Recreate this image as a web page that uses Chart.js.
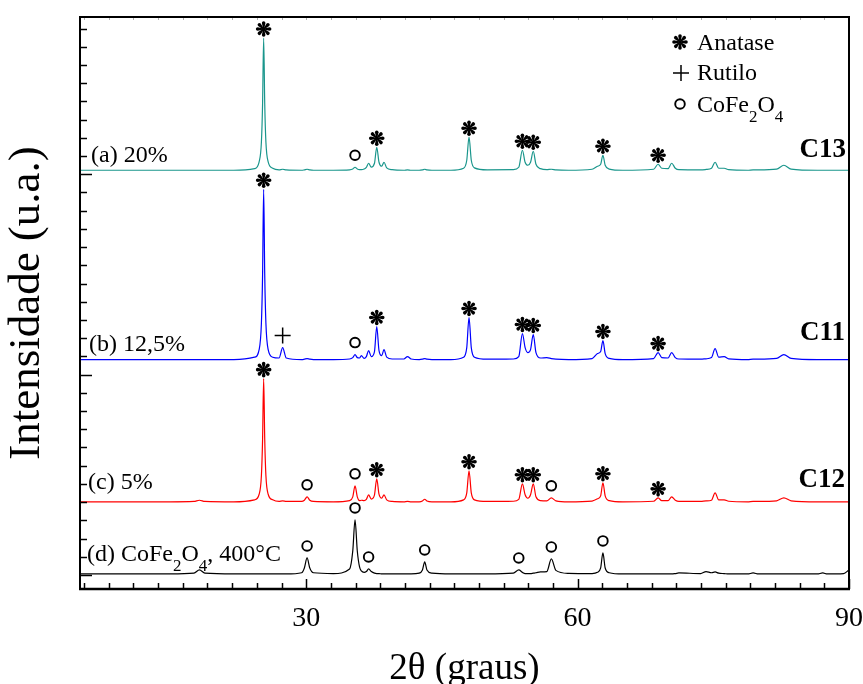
<!DOCTYPE html>
<html>
<head>
<meta charset="utf-8">
<title>DRX - CoFe2O4/TiO2</title>
<script src="https://cdn.jsdelivr.net/npm/chart.js@4.4.1/dist/chart.umd.min.js"></script>
<style>
  html, body { margin: 0; padding: 0; background: #fff; }
</style>
</head>
<body>
<canvas id="xrdChart" width="863" height="684"></canvas>
<script>
// 2-theta grid shared by all four patterns
const angles = [
  5, 10, 15, 17.6, 18.2, 18.8, 22, 24.3, 24.8, 25.05,
  25.18, 25.3, 25.42, 25.55, 25.8, 26.3, 27.0, 27.4, 27.8, 29.5,
  29.8, 30.1, 30.4, 30.8, 33, 34.8, 35.15, 35.4, 35.65, 35.9,
  36.1, 36.4, 36.65, 36.9, 37.2, 37.55, 37.8, 38.05, 38.35, 38.6,
  38.9, 39.5, 40.8, 41.2, 41.6, 42.5, 42.85, 43.1, 43.35, 43.9,
  46, 47.4, 47.75, 48.0, 48.25, 48.6, 50, 52.9, 53.5, 53.9,
  54.2, 54.5, 54.8, 55.1, 55.4, 55.9, 56.6, 57.1, 57.6, 59,
  61.6, 62.2, 62.55, 62.8, 63.05, 63.5, 65, 68.4, 68.9, 69.3,
  70.0, 70.4, 70.8, 71.2, 73.6, 74.2, 74.8, 75.2, 75.6, 76.2,
  76.7, 78.8, 79.4, 80, 82.0, 82.8, 83.6, 86.5, 87.1, 87.6,
  89.4, 90
];

// (a) 20% - C13
const countsC13 = [
  0, 0, 0, 0, 0, 0, 0, 8, 42, 140,
  330, 660, 330, 140, 42, 10, 2, 5, 2, 0,
  2, 5, 2, 0, 0, 2, 6, 15, 6, 3,
  3, 6, 14, 35, 16, 35, 115, 40, 20, 40,
  12, 3, 0, 2, 0, 0, 2, 5, 2, 0,
  0, 10, 50, 165, 50, 12, 2, 3, 15, 100,
  40, 25, 40, 95, 30, 8, 3, 5, 2, 0,
  5, 20, 30, 75, 25, 6, 0, 5, 30, 10,
  8, 35, 10, 3, 2, 4, 10, 40, 10, 10,
  3, 0, 2, 2, 6, 25, 6, 0, 0, 0,
  0, 0
];

// (b) 12,5% - C11
const countsC11 = [
  0, 0, 0, 0, 0, 0, 0, 12, 50, 180,
  420, 850, 420, 180, 50, 12, 8, 60, 8, 0,
  2, 5, 2, 0, 0, 3, 10, 25, 10, 8,
  20, 6, 15, 45, 15, 40, 165, 45, 20, 50,
  12, 3, 3, 15, 3, 0, 2, 5, 2, 0,
  0, 12, 60, 210, 60, 12, 2, 3, 15, 130,
  60, 35, 50, 125, 35, 8, 10, 5, 2, 0,
  5, 30, 40, 95, 30, 6, 0, 5, 35, 10,
  8, 35, 10, 3, 2, 4, 10, 55, 12, 15,
  4, 0, 2, 2, 6, 25, 6, 0, 0, 0,
  0, 0
];

// (c) 5% - C12
const countsC12 = [
  0, 0, 0, 2, 8, 2, 0, 10, 38, 130,
  310, 615, 310, 130, 38, 10, 2, 5, 2, 2,
  8, 25, 8, 2, 0, 6, 25, 80, 25, 6,
  8, 6, 12, 35, 14, 35, 115, 38, 18, 35,
  10, 2, 0, 2, 0, 0, 4, 13, 4, 0,
  0, 10, 45, 155, 45, 10, 2, 3, 12, 90,
  35, 18, 35, 90, 25, 6, 5, 20, 5, 0,
  4, 15, 30, 95, 30, 6, 0, 3, 20, 6,
  6, 25, 8, 2, 2, 5, 8, 45, 10, 10,
  3, 0, 2, 2, 5, 20, 5, 0, 0, 0,
  0, 0
];

// (d) CoFe2O4 calcined at 400 C
const countsFerrite = [
  0, 0, 0, 4, 20, 4, 0, 0, 0, 0,
  0, 0, 0, 0, 0, 0, 0, 0, 0, 6,
  30, 80, 30, 6, 2, 25, 115, 270, 115, 35,
  15, 8, 12, 25, 12, 4, 2, 2, 0, 0,
  0, 0, 0, 0, 0, 4, 20, 60, 20, 4,
  0, 0, 0, 0, 0, 0, 0, 4, 20, 8,
  2, 2, 2, 4, 6, 10, 12, 75, 18, 3,
  2, 8, 30, 105, 30, 6, 0, 0, 0, 0,
  0, 0, 2, 5, 2, 12, 6, 10, 4, 2,
  0, 0, 5, 0, 0, 0, 0, 0, 5, 0,
  2, 20
];

// vertical stacking offsets (a, b, c, d)
const offsets = [2020, 1075, 365, 5];

const xLabels = [30, 60, 90];
const xMinorStep = 30 / 11;
const yMinorStep = 1000 / 11;

// phase markers per pattern: [symbol, 2-theta]
const marksC13 = [['star', 25.3], ['circle', 35.4], ['star', 37.8], ['star', 48.0], ['star', 53.9], ['star', 55.1], ['star', 62.8], ['star', 68.9]];
const marksC11 = [['star', 25.3], ['plus', 27.4], ['circle', 35.4], ['star', 37.8], ['star', 48.0], ['star', 53.9], ['star', 55.1], ['star', 62.8], ['star', 68.9]];
const marksC12 = [['star', 25.3], ['circle', 30.1], ['circle', 35.4], ['star', 37.8], ['star', 48.0], ['star', 53.9], ['star', 55.1], ['circle', 57.1], ['star', 62.8], ['star', 68.9]];
const marksFerrite = [['circle', 30.1], ['circle', 35.4], ['circle', 36.9], ['circle', 43.1], ['circle', 53.5], ['circle', 57.1], ['circle', 62.8]];

const SERIF = "'Liberation Serif', 'Times New Roman', serif";

const patterns = [
  { counts: countsC13, offset: offsets[0], color: '#1a968c', marks: marksC13 },
  { counts: countsC11, offset: offsets[1], color: '#0000ff', marks: marksC11 },
  { counts: countsC12, offset: offsets[2], color: '#ff0000', marks: marksC12 },
  { counts: countsFerrite, offset: offsets[3], color: '#000000', marks: marksFerrite }
];

// eight teardrop spokes, like the anatase asterisk
function drawStar(ctx, cx, cy, r) {
  ctx.save();
  ctx.translate(cx, cy);
  ctx.fillStyle = '#000';
  for (let i = 0; i < 8; i++) {
    ctx.rotate(Math.PI / 4);
    ctx.beginPath();
    ctx.moveTo(0, -0.5);
    ctx.arc(r * 0.77, 0, r * 0.23, -Math.PI / 2, Math.PI / 2);
    ctx.lineTo(0, 0.5);
    ctx.closePath();
    ctx.fill();
  }
  ctx.beginPath();
  ctx.arc(0, 0, 1.6, 0, Math.PI * 2);
  ctx.fill();
  ctx.restore();
}

function drawCircle(ctx, cx, cy) {
  ctx.save();
  ctx.strokeStyle = '#000';
  ctx.lineWidth = 1.9;
  ctx.beginPath();
  ctx.arc(cx, cy, 4.8, 0, Math.PI * 2);
  ctx.stroke();
  ctx.restore();
}

function drawPlus(ctx, cx, cy) {
  ctx.save();
  ctx.strokeStyle = '#000';
  ctx.lineWidth = 1.5;
  ctx.beginPath();
  ctx.moveTo(cx - 8, cy);
  ctx.lineTo(cx + 8, cy);
  ctx.moveTo(cx, cy - 8);
  ctx.lineTo(cx, cy + 8);
  ctx.stroke();
  ctx.restore();
}

// draws text runs where some parts are subscripts
function drawRuns(ctx, x, y, runs, size) {
  let cx = x;
  runs.forEach(([txt, sub]) => {
    const fs = sub ? Math.round(size * 0.7) : size;
    ctx.font = fs + 'px ' + SERIF;
    ctx.fillText(txt, cx, sub ? y + size * 0.42 : y);
    cx += ctx.measureText(txt).width;
  });
}

const frameAndMarks = {
  id: 'frameAndMarks',
  afterDatasetsDraw(chart) {
    const { ctx, chartArea: a, scales: { x, y } } = chart;
    ctx.save();

    // inward ticks on the bottom axis, faint ones on top
    ctx.strokeStyle = '#000';
    ctx.lineWidth = 1.5;
    for (let k = 2; k <= 33; k++) {
      const px = Math.round(x.getPixelForValue(k * xMinorStep)) + 0.5;
      const len = k % 11 === 0 ? 10 : 6;
      ctx.beginPath();
      ctx.moveTo(px, a.bottom);
      ctx.lineTo(px, a.bottom - len);
      ctx.stroke();
    }
    ctx.strokeStyle = '#b0b0b0';
    ctx.lineWidth = 1;
    for (let k = 2; k < 33; k++) {
      const px = Math.round(x.getPixelForValue(k * xMinorStep)) + 0.5;
      ctx.beginPath();
      ctx.moveTo(px, a.top);
      ctx.lineTo(px, a.top + 3);
      ctx.stroke();
    }

    // inward ticks on the left axis
    ctx.strokeStyle = '#000';
    ctx.lineWidth = 1.5;
    for (let k = 0; k <= 30; k++) {
      const py = Math.round(y.getPixelForValue(k * yMinorStep)) + 0.5;
      const len = k % 11 === 0 ? 12 : 7;
      ctx.beginPath();
      ctx.moveTo(a.left, py);
      ctx.lineTo(a.left + len, py);
      ctx.stroke();
    }

    // frame
    ctx.lineWidth = 2;
    ctx.strokeRect(a.left, a.top, a.right - a.left, a.bottom - a.top);
    ctx.lineWidth = 2.5;
    ctx.beginPath();
    ctx.moveTo(a.left - 1, a.bottom);
    ctx.lineTo(a.right + 1, a.bottom);
    ctx.stroke();

    // phase markers above the peaks
    patterns.forEach(p => {
      p.marks.forEach(([sym, ang]) => {
        const i = angles.indexOf(ang);
        const px = x.getPixelForValue(ang);
        const top = y.getPixelForValue(p.counts[i] + p.offset);
        if (sym === 'star') drawStar(ctx, px, top - 9, 7.8);
        else if (sym === 'circle') drawCircle(ctx, px, top - 12);
        else drawPlus(ctx, px, top - 12);
      });
    });

    // legend
    drawStar(ctx, 680, 42, 7.8);
    drawPlus(ctx, 681, 73);
    drawCircle(ctx, 680, 104);
    ctx.fillStyle = '#000';
    ctx.textBaseline = 'alphabetic';
    ctx.textAlign = 'left';
    drawRuns(ctx, 697, 50, [['Anatase']], 24);
    drawRuns(ctx, 697, 80, [['Rutilo']], 24);
    drawRuns(ctx, 697, 112, [['CoFe'], ['2', true], ['O'], ['4', true]], 24);

    // sample labels
    drawRuns(ctx, 91, 162, [['(a) 20%']], 24);
    drawRuns(ctx, 89, 351, [['(b) 12,5%']], 24);
    drawRuns(ctx, 88, 489, [['(c) 5%']], 24);
    drawRuns(ctx, 87, 561, [['(d) CoFe'], ['2', true], ['O'], ['4', true], [', 400°C']], 24);

    ctx.textAlign = 'right';
    ctx.font = 'bold 27px ' + SERIF;
    ctx.fillText('C13', 846, 157);
    ctx.fillText('C11', 845, 340);
    ctx.fillText('C12', 845, 487);

    ctx.restore();
  }
};

const datasets = patterns.map(p => ({
  data: angles.map((a, i) => ({ x: a, y: p.counts[i] + p.offset })),
  borderColor: p.color,
  borderWidth: 1.2,
  pointRadius: 0,
  fill: false,
  cubicInterpolationMode: 'monotone'
}));

new Chart(document.getElementById('xrdChart').getContext('2d'), {
  type: 'line',
  data: { datasets },
  options: {
    responsive: false,
    animation: false,
    layout: { padding: { top: 17, right: 14, left: 0, bottom: 0 } },
    plugins: { legend: { display: false }, tooltip: { enabled: false } },
    scales: {
      x: {
        type: 'linear',
        min: 5,
        max: 90,
        grid: { display: false, drawTicks: false },
        border: { display: false },
        afterBuildTicks(s) { s.ticks = xLabels.map(v => ({ value: v })); },
        afterFit(s) {
          s.height = 95;
          s.paddingLeft = 0;
          s.paddingRight = 0;
        },
        ticks: {
          autoSkip: false,
          maxRotation: 0,
          padding: 13,
          color: '#000',
          font: { family: SERIF, size: 28 }
        },
        title: {
          display: true,
          text: '2θ (graus)',
          color: '#000',
          padding: 0,
          font: { family: SERIF, size: 37, lineHeight: 0.8 }
        }
      },
      y: {
        min: -70,
        max: 2785,
        grid: { display: false, drawTicks: false },
        border: { display: false },
        ticks: { display: false },
        afterFit(s) { s.width = 80; },
        title: {
          display: true,
          text: 'Intensidade (u.a.)',
          color: '#000',
          padding: { top: 5, bottom: 0 },
          font: { family: SERIF, size: 45, lineHeight: 1 }
        }
      }
    }
  },
  plugins: [frameAndMarks]
});
</script>
</body>
</html>
